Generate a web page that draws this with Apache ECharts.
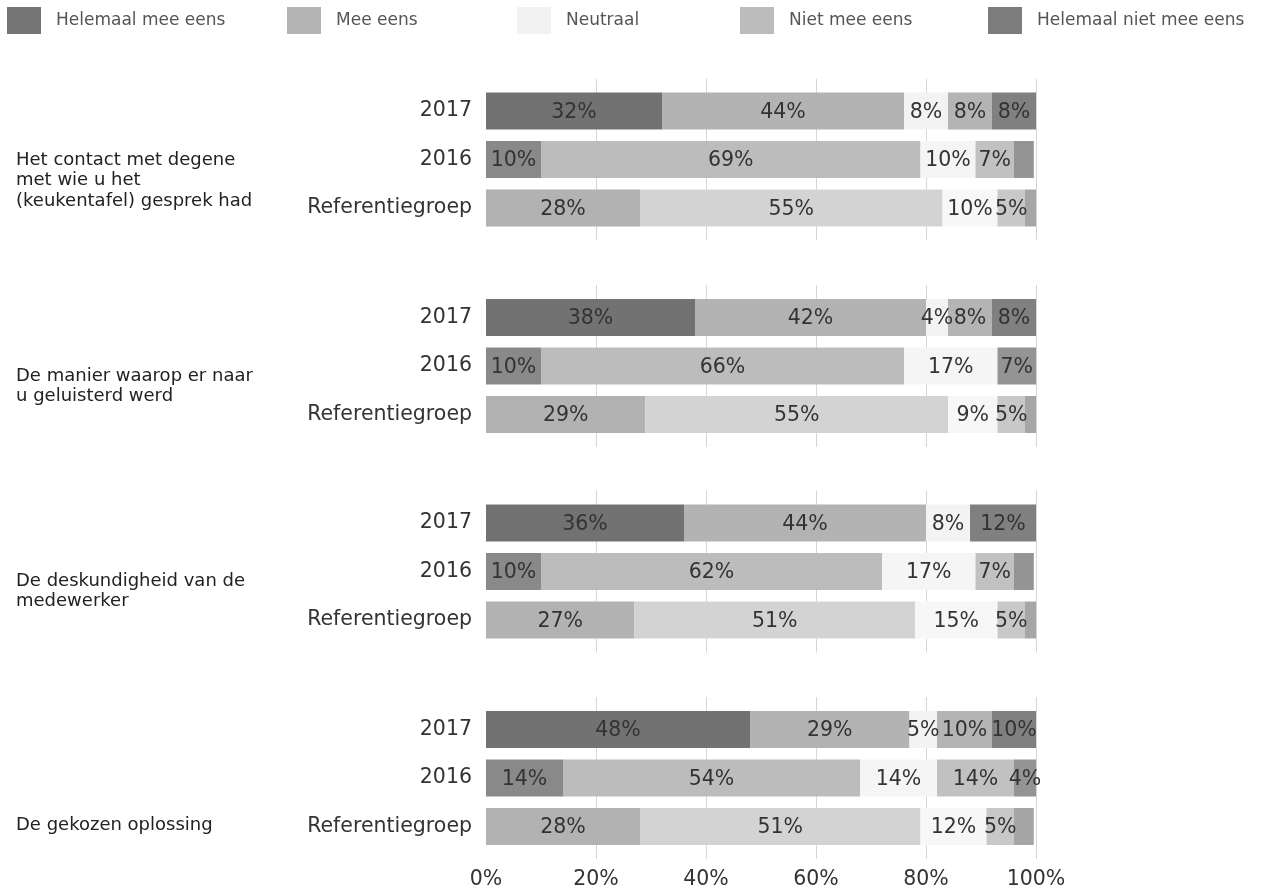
<!DOCTYPE html>
<html>
<head>
<meta charset="utf-8">
<script src="https://cdn.jsdelivr.net/npm/echarts@6/dist/echarts.min.js"></script>
<style>
  html, body { margin: 0; padding: 0; background: #ffffff; }
  #chart { width: 1266px; height: 892px; }
</style>
</head>
<body>
<div id="chart"></div>
<script>
// Survey answers per statement, rows: 2017, 2016, Referentiegroep (percent)
const rows = ['2017', '2016', 'Referentiegroep'];
const statements = [
  'Het contact met degene\nmet wie u het\n(keukentafel) gesprek had',
  'De manier waarop er naar\nu geluisterd werd',
  'De deskundigheid van de\nmedewerker',
  'De gekozen oplossing'
];
const answers = ['Helemaal mee eens', 'Mee eens', 'Neutraal', 'Niet mee eens', 'Helemaal niet mee eens'];

const helemaalMeeEens = [[32, 10, 28], [38, 10, 29], [36, 10, 27], [48, 14, 28]];
const meeEens         = [[44, 69, 55], [42, 66, 55], [44, 62, 51], [29, 54, 51]];
const neutraal        = [[8, 10, 10], [4, 17, 9], [8, 17, 15], [5, 14, 12]];
const nietMeeEens     = [[8, 7, 5], [8, 0, 5], [0, 7, 5], [10, 14, 5]];
const helemaalNiet    = [[8, 3.6, 2], [8, 7, 2], [12, 3.6, 2], [10, 4, 3.6]];
const xTicks = [0, 20, 40, 60, 80, 100];

const answerValues = [helemaalMeeEens, meeEens, neutraal, nietMeeEens, helemaalNiet];

// grey shades per answer, one per row (2017, 2016, Referentiegroep)
const shades = [
  ['#727272', '#898989', '#b2b2b2'],
  ['#b3b3b3', '#bcbcbc', '#d3d3d3'],
  ['#f3f3f4', '#f5f5f6', '#f7f7f8'],
  ['#b4b4b4', '#c1c1c1', '#c8c8c8'],
  ['#808080', '#949494', '#a6a6a6']
];
const legendShades = ['#747474', '#b4b4b4', '#f2f2f3', '#bcbcbc', '#7c7c7c'];
const legendLeft = [7, 287, 517, 740, 988];

const FONT = 'DejaVu Sans';
const plotLeft = 486, plotRight = 1266 - 1036;
const groupCenters = [159.5, 366, 571.5, 778];
const captionFirstLine = [160, 376, 581, 825];
const slot = 48.5;
const lineHalf = 81;

const grids = [], xAxes = [], yAxes = [], series = [], graphics = [];

// background grids carrying the vertical grid lines
groupCenters.forEach((c, g) => {
  const last = g === groupCenters.length - 1;
  grids.push({ left: plotLeft, right: plotRight, top: c - lineHalf, height: lineHalf * 2 });
  xAxes.push({
    gridIndex: g, type: 'value', min: xTicks[0], max: xTicks[xTicks.length - 1], interval: 20,
    axisLine: { show: false }, axisTick: { show: false },
    axisLabel: { show: last, formatter: '{value}%', fontSize: 20.5, color: '#333', margin: 10, fontFamily: FONT },
    splitLine: { show: true, showMinLine: false, showMaxLine: true, lineStyle: { color: '#d5d5df', width: 1 } }
  });
  yAxes.push({ gridIndex: g, type: 'value', show: false });
});

// bar grids, one per statement
groupCenters.forEach((c, g) => {
  const idx = groupCenters.length + g;
  grids.push({ left: plotLeft, right: plotRight, top: c - slot * 1.5, height: slot * 3 });
  xAxes.push({ gridIndex: idx, type: 'value', min: 0, max: 100, show: false });
  yAxes.push({
    gridIndex: idx, type: 'category', inverse: true, data: rows,
    axisLine: { show: false }, axisTick: { show: false }, splitLine: { show: false },
    axisLabel: { fontSize: 20.5, color: '#333', margin: 14, fontFamily: FONT, padding: [3, 0, 0, 0] }
  });
  answers.forEach((name, s) => {
    series.push({
      type: 'bar', name: name, stack: 'stmt' + g,
      xAxisIndex: idx, yAxisIndex: idx,
      barWidth: 37,
      data: answerValues[s][g],
      itemStyle: { color: p => shades[s][p.dataIndex] },
      label: {
        show: true, position: 'inside', offset: [0, 1.5],
        formatter: p => (p.value >= 4 ? p.value + '%' : ''),
        color: '#333', fontSize: 20.5, fontFamily: FONT,
        textBorderWidth: 0
      },
      emphasis: { disabled: true }
    });
  });
  // statement caption, placed by the centre of its first line
  graphics.push({
    type: 'text', left: 16, top: captionFirstLine[g] - 10.25,
    style: {
      text: statements[g], font: '18px "' + FONT + '"', fill: '#222', lineHeight: 20.5
    }
  });
});

const legends = answers.map((name, i) => ({
  left: legendLeft[i], top: 7, orient: 'horizontal', padding: 0,
  itemWidth: 34, itemHeight: 27, icon: 'rect', selectedMode: false,
  data: [{ name: name, itemStyle: { color: legendShades[i] } }],
  textStyle: { fontSize: 17, color: '#555', fontFamily: FONT, padding: [2, 0, 0, 10] }
}));

const chart = echarts.init(document.getElementById('chart'), null, { renderer: 'canvas' });
chart.setOption({
  backgroundColor: '#ffffff',
  animation: false,
  textStyle: { fontFamily: FONT },
  legend: legends,
  grid: grids,
  xAxis: xAxes,
  yAxis: yAxes,
  series: series,
  graphic: graphics
});
</script>
</body>
</html>
